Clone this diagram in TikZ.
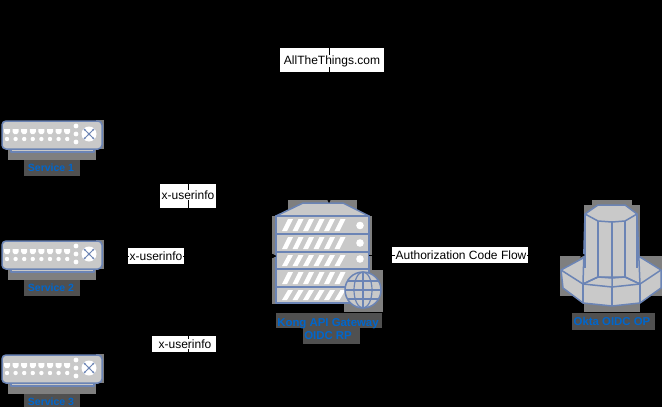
\documentclass[tikz,border=0pt]{standalone}
\usepackage{fontspec}
\setmainfont{Liberation Sans}
\usetikzlibrary{arrows.meta}
\definecolor{iconblue}{HTML}{6B84B5}
\definecolor{iconfill}{HTML}{C9C9C9}
\definecolor{halo}{HTML}{7F7F7F}
\definecolor{halodark}{HTML}{505050}
\definecolor{labelblue}{HTML}{0066CC}
\tikzset{
  x=1pt,y=-1pt,
  iconline/.style={draw=iconblue,line width=1.5pt,fill=iconfill,line join=round},
  whitebox/.style={fill=white,draw=none,inner sep=0pt,anchor=north west},
  lbl/.style={fill=white,inner sep=0.3pt,font=\fontsize{12}{14}\selectfont,text=black},
  iconlabel/.style={font=\fontsize{10.5}{13}\selectfont\bfseries,text=labelblue,align=center},
  iconlabelwide/.style={font=\fontsize{11.4}{13}\selectfont\bfseries,text=labelblue,align=center},
  conn/.style={draw=black,line width=1pt,-{Stealth[length=5pt,width=5pt]}},
  pics/device/.style={code={
    \fill[halo] (8,0) rectangle (96,39);
    \fill[halo] (96,-1) rectangle (104,28);
    \fill[halodark] (24,39) rectangle (80,55);
    \draw[iconline] (11,27) rectangle (94,31);
    \draw[iconline,rounded corners=4pt,fill=iconfill] (2,0) rectangle (102,28);
    \foreach \i in {0,...,7}{
      \fill[white] ({4+8.6*\i},8) -- ({10+8.6*\i},8) -- ({10+8.6*\i},11) -- ({8.5+8.6*\i},13) -- ({5.5+8.6*\i},13) -- ({4+8.6*\i},11) -- cycle;
      \fill[white] ({7+8.6*\i},18) circle (2.2);
    }
    \foreach \yy in {5,13,21}{\fill[white] (76,\yy) circle (2.4);}
    \fill[white] (89,13) circle (7.5);
    \foreach \dx/\dy in {-1/-1,1/-1,-1/1,1/1}{
      \draw[iconblue,line width=0.8pt,{Stealth[length=2.4pt,width=2.4pt]}-]
        ({89+5.5*\dx},{13+5.5*\dy}) -- ({89-1*\dx},{13-1*\dy});
    }
  }}
}
\begin{document}
\begin{tikzpicture}
\useasboundingbox (0,0) rectangle (662,407);
\fill[black] (0,0) rectangle (662,407);

% white label blocks
\node[whitebox,minimum width=104pt,minimum height=24pt] (bAll) at (280,48) {};
\node[whitebox,minimum width=56pt,minimum height=24pt] (bU1) at (160,184) {};
\node[whitebox,minimum width=56pt,minimum height=16pt] (bU2) at (128,248) {};
\node[whitebox,minimum width=64pt,minimum height=16pt] (bU3) at (152,336) {};
\node[whitebox,minimum width=136pt,minimum height=16pt] (bA) at (392,247) {};

% services
\pic at (0,121) {device};
\pic at (0,241) {device};
\pic at (0,355) {device};
\node[iconlabel] (l1) at (51,168) {Service 1};
\node[iconlabel] (l2) at (51,288) {Service 2};
\node[iconlabel] (l3) at (51,402) {Service 3};

% gateway
\fill[halo] (272,216) rectangle (372,304);
\fill[halo] (288,200) rectangle (357,216);
\fill[halo] (344,270) rectangle (383,312);
\fill[halodark] (276,313) rectangle (382,328);
\fill[halodark] (303,328) rectangle (360,344);
\draw[iconline] (276,216) -- (303,203) -- (343,203) -- (369,216) -- cycle;
\foreach \ya/\yb in {216/234,234/252,252/269,269/287,287/303}{
  \draw[iconline] (276,\ya) rectangle (369,\yb);
  \foreach \i in {0,...,5}{
    \fill[white] ({282+\i*10.5},{\yb-3}) -- ({287+\i*10.5},{\yb-3}) -- ({293+\i*10.5},{\ya+3}) -- ({288+\i*10.5},{\ya+3}) -- cycle;
  }
}
\foreach \yy in {225.5,243,259}{\fill[white] (360,\yy) circle (3.8);}
\fill[iconfill] (363,290) circle (18);
\draw[iconblue,line width=1.5pt] (363,290) circle (18);
\draw[iconblue,line width=1.2pt] (363,290) ellipse (9 and 18);
\draw[iconblue,line width=1.2pt] (363,272) -- (363,308);
\draw[iconblue,line width=1.2pt] (345,290) -- (381,290);
\draw[iconblue,line width=1.2pt] (347.5,281) -- (378.5,281);
\draw[iconblue,line width=1.2pt] (347.5,299) -- (378.5,299);
\node[iconlabelwide] (lg) at (328,329.5) {Kong API Gateway\\OIDC RP};
\coordinate (gw) at (276,256);
\coordinate (gwr) at (369,255);
\coordinate (gwt) at (329,203);

% okta
\fill[halo] (592,200) rectangle (632,205);
\fill[halo] (584,205) rectangle (640,256);
\fill[halo] (560,256) rectangle (662,296);
\fill[halo] (584,296) rectangle (640,312);
\fill[halodark] (572,313) rectangle (655,330);
\draw[iconline] (585,257) -- (561,270) -- (563,288) -- (583,303) -- (612,306) -- (640,303) -- (661,288) -- (661,270) -- (640,257) -- cycle;
\draw[iconline] (585,214) -- (598,205) -- (625,205) -- (637,214) -- (640,284) -- (625,277) -- (598,277) -- (583,284) -- cycle;
\fill[iconfill] (585,214) -- (637,214) -- (637,268) -- (585,268) -- cycle;
\draw[iconline,fill=none] (585,214) -- (585,268) (637,214) -- (637,268);
\draw[iconline,fill=none] (561,270) -- (583,284) -- (612,287) -- (640,284) -- (661,270);
\draw[iconline,fill=none] (583,284) -- (583,303) (612,287) -- (612,306) (640,284) -- (640,303);
\draw[iconline,fill=none] (583,284) -- (598,277) -- (612,278) -- (625,277) -- (640,284) (612,278) -- (612,287);
\draw[iconline,fill=none] (585,214) -- (598,221) -- (612,222) -- (625,221) -- (637,214);
\draw[iconline,fill=none] (598,221) -- (598,277) (612,222) -- (612,278) (625,221) -- (625,277);
\node[iconlabelwide] (lo) at (612,321) {Okta OIDC OP};
\coordinate (ok) at (585,255);

% connectors
\coordinate (s1) at (104,137);
\coordinate (s2) at (104,256);
\coordinate (s3) at (104,371);
\coordinate (top) at (329,20);
\draw[conn] (s1) -| (188,256) -- (gw);
\draw[conn] (s2) -- (gw);
\draw[conn] (s3) -| (188,256) -- (gw);
\draw[conn] (gwr) -- (ok);
\draw[conn] (top) -- (gwt);

% connector labels
\node[lbl] (tAll) at (332,61) {AllTheThings.com};
\node[lbl] (tU1) at (188,195) {x-userinfo};
\node[lbl] (tU2) at (156,256) {x-userinfo};
\node[lbl] (tU3) at (185,344) {x-userinfo};
\node[lbl] (tA) at (461,255) {Authorization Code Flow};
\end{tikzpicture}
\end{document}
